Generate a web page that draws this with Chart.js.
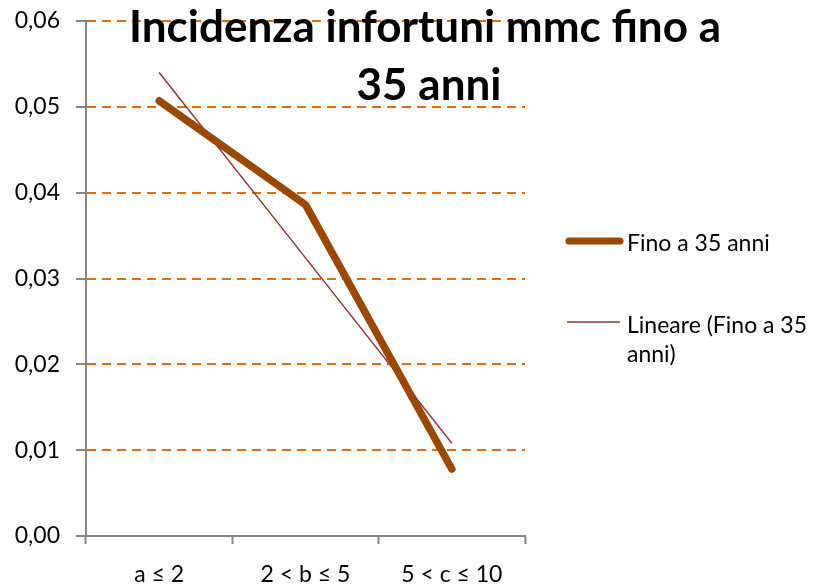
<!DOCTYPE html>
<html>
<head>
<meta charset="utf-8">
<script src="https://cdn.jsdelivr.net/npm/chart.js@4.4.0/dist/chart.umd.min.js"></script>
<style>
    html, body { margin: 0; padding: 0; background: #fff; }
    #wrap { position: relative; width: 819px; height: 586px; }
</style>
</head>
<body>
<div id="wrap"><canvas id="myChart" width="819" height="586"></canvas></div>
<script>
// dati
const categories = ['a \u2264 2', '2 < b \u2264 5', '5 < c \u2264 10'];
const fino35 = [0.0507, 0.0386, 0.0078];
const lineare = [0.0540, 0.0324, 0.0108];
const yTicks = [0, 0.01, 0.02, 0.03, 0.04, 0.05, 0.06];
const titleLines = ['Incidenza infortuni mmc fino a', '35 anni'];
const legendLabels = ['Fino a 35 anni', ['Lineare (Fino a 35', 'anni)']];

const FONT = 'Lato, "Open Sans", sans-serif';
const BROWN = '#9a4802';
const RED = '#953735';
const GRID = '#e46c0a';
const AXIS = '#868686';

// titolo e legenda disegnati a mano
const extras = {
    id: 'extras',
    afterDraw(chart) {
        const ctx = chart.ctx;
        ctx.save();
        ctx.fillStyle = '#000';
        ctx.textAlign = 'center';
        ctx.textBaseline = 'alphabetic';
        ctx.font = 'bold 44px ' + FONT;
        ctx.fillText(titleLines[0], 425, 42);
        ctx.fillText(titleLines[1], 429, 100);

        // legenda
        ctx.lineCap = 'round';
        ctx.strokeStyle = BROWN;
        ctx.lineWidth = 7;
        ctx.beginPath();
        ctx.moveTo(569, 241);
        ctx.lineTo(620, 241);
        ctx.stroke();

        ctx.lineCap = 'butt';
        ctx.strokeStyle = RED;
        ctx.lineWidth = 1.5;
        ctx.beginPath();
        ctx.moveTo(567, 322);
        ctx.lineTo(620, 322);
        ctx.stroke();

        ctx.textAlign = 'left';
        ctx.font = '23px ' + FONT;
        ctx.fillText(legendLabels[0], 627, 251);
        ctx.fillText(legendLabels[1][0], 627, 333);
        ctx.fillText(legendLabels[1][1], 627, 362);
        ctx.restore();
    }
};

new Chart('myChart', {
    type: 'line',
    data: {
        labels: categories,
        datasets: [{
            label: 'Fino a 35 anni',
            data: fino35,
            borderColor: BROWN,
            borderWidth: 7.5,
            borderCapStyle: 'round',
            borderJoinStyle: 'round',
            pointRadius: 0,
            tension: 0
        }, {
            label: 'Lineare (Fino a 35 anni)',
            data: lineare,
            borderColor: RED,
            borderWidth: 1.5,
            pointRadius: 0,
            tension: 0
        }]
    },
    options: {
        responsive: false,
        animation: false,
        devicePixelRatio: 1,
        layout: { padding: { top: 21, right: 294, left: 0, bottom: 0 } },
        plugins: {
            legend: { display: false },
            title: { display: false },
            tooltip: { enabled: false }
        },
        scales: {
            x: {
                offset: true,
                grid: {
                    offset: true,
                    drawOnChartArea: false,
                    tickLength: 8,
                    tickColor: AXIS,
                    tickWidth: 2
                },
                border: { color: AXIS, width: 2 },
                ticks: {
                    color: '#000',
                    padding: 17,
                    font: { family: FONT, size: 23 },
                    maxRotation: 0
                },
                afterFit(scale) {
                    scale.height = 50;
                    scale.paddingLeft = 0;
                    scale.paddingRight = 0;
                }
            },
            y: {
                min: 0,
                max: 0.06,
                afterBuildTicks(scale) {
                    scale.ticks = yTicks.map(v => ({ value: v }));
                },
                grid: {
                    color: GRID,
                    lineWidth: 2,
                    tickLength: 10,
                    tickColor: AXIS,
                    tickWidth: 2
                },
                border: { color: AXIS, width: 2, dash: [9, 6] },
                ticks: {
                    color: '#000',
                    padding: 16,
                    font: { family: FONT, size: 23 },
                    callback: v => v.toFixed(2).replace('.', ',')
                },
                afterFit(scale) {
                    scale.width = 86;
                    scale.paddingTop = 0;
                    scale.paddingBottom = 0;
                }
            }
        }
    },
    plugins: [extras]
});
</script>
</body>
</html>
